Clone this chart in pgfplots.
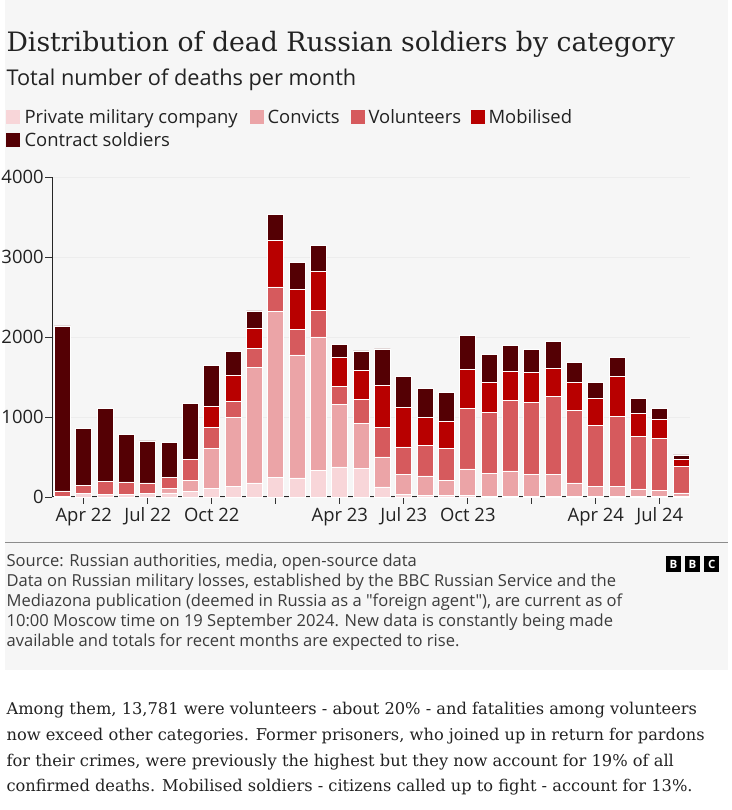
\documentclass[border=0pt]{standalone}
\usepackage{pgfplots}
\pgfplotsset{compat=1.18}
\usepackage{pgfplotstable}
\usepackage{fontspec}
\setmainfont{Open Sans}
\newfontfamily\sansf{Open Sans}
\newfontfamily\titlefont{DejaVu Serif}
\newfontfamily\bodyfont{DejaVu Serif}
\definecolor{bg}{HTML}{F6F6F6}
\definecolor{cpmc}{HTML}{F8D6D9}
\definecolor{cconv}{HTML}{EBA4A7}
\definecolor{cvol}{HTML}{D65A5D}
\definecolor{cmob}{HTML}{B80000}
\definecolor{ccon}{HTML}{540004}
\definecolor{txt}{HTML}{222222}
\definecolor{srctxt}{HTML}{3C3C3C}

\pgfplotstableread{
x pmc conv vol mob con
0 5 0 70 0 2063
1 40 0 100 0 720
2 30 0 165 0 911
3 30 0 158 0 593
4 40 0 135 0 526
5 50 54 142 0 434
6 70 135 263 0 705
7 104 501 263 268 513
8 134 856 204 330 296
9 175 1449 234 255 213
10 242 2075 309 585 326
11 238 1537 317 501 334
12 334 1666 334 489 317
13 376 781 221 363 171
14 355 564 300 368 238
15 125 376 367 522 460
16 33 247 346 493 388
17 20 243 376 359 355
18 20 189 401 334 363
19 20 331 760 484 426
20 10 282 769 371 355
21 10 316 885 363 322
22 10 274 893 380 284
23 10 274 973 355 334
24 5 170 902 359 242
25 5 124 765 342 196
26 5 124 873 501 238
27 5 95 656 288 192
28 5 79 651 230 137
29 5 45 334 88 54
}\data

\begin{document}
\begin{tikzpicture}[x=1bp,y=1bp]
% canvas
\fill[white] (0,0) rectangle (726,810);
\fill[bg] (0,140) rectangle (723,810);
\draw[black!45, line width=1bp] (0,267) -- (723,267);

% title & subtitle
\node[anchor=base west, inner sep=0, text=txt] at (1,758) {\titlefont\fontsize{26.8}{26.8}\selectfont Distribution of dead Russian soldiers by category};
\node[anchor=base west, inner sep=0, text=txt] at (1,724) {\fontsize{21.8}{21.8}\selectfont Total number of deaths per month};

% legend
\begin{scope}[every node/.style={anchor=base west, inner sep=0, text=txt, font=\fontsize{18.5}{18.5}\selectfont}]
\fill[cpmc] (1,686) rectangle (15,700);
\node at (19,686) {Private military company};
\fill[cconv] (245,686) rectangle (259,700);
\node at (262,686) {Convicts};
\fill[cvol] (346,686) rectangle (360,700);
\node at (363,686) {Volunteers};
\fill[cmob] (466,686) rectangle (480,700);
\node at (483,686) {Mobilised};
\fill[ccon] (1,663) rectangle (15,677);
\node at (19,663) {Contract soldiers};
\end{scope}

\begin{axis}[
  at={(57bp,313bp)}, anchor=origin,
  scale only axis, width=638bp, height=320bp,
  xmin=-0.47, xmax=29.43, ymin=0, ymax=4000,
  ybar stacked, bar width=16bp,
  axis x line*=bottom, axis y line*=left,
  axis line style={black!85, line width=1bp, -},
  xtick={1,4,7,10,13,16,19,22,25,28},
  xticklabels={Apr 22,Jul 22,Oct 22,{},Apr 23,Jul 23,Oct 23,{},Apr 24,Jul 24},
  ytick={0,1000,2000,3000,4000},
  tick align=outside, major tick length=7bp,
  tick style={black!80, line width=0.9bp},
  ymajorgrids, major grid style={black!7, line width=0.7bp},
  ticklabel style={font=\fontsize{18.5}{18.5}\selectfont, text=txt},
  /pgf/number format/assume math mode=true,
  /pgf/number format/1000 sep={},
  xticklabel style={inner sep=1bp, yshift=-2.5bp},
  yticklabel style={inner sep=1.5bp},
  clip=false,
]
\addplot[fill=cpmc, draw=white, line width=0.8bp] table[x=x,y=pmc]{\data};
\addplot[fill=cconv, draw=white, line width=0.8bp] table[x=x,y=conv]{\data};
\addplot[fill=cvol, draw=white, line width=0.8bp] table[x=x,y=vol]{\data};
\addplot[fill=cmob, draw=white, line width=0.8bp] table[x=x,y=mob]{\data};
\addplot[fill=ccon, draw=white, line width=0.8bp] table[x=x,y=con]{\data};
\end{axis}

% source
\begin{scope}[every node/.style={anchor=base west, inner sep=0, text=srctxt, font=\sansf\fontsize{16.6}{16.6}\selectfont}]
\node at (1,243) {Source: Russian authorities, media, open-source data};
\node at (1,223) {Data on Russian military losses, established by the BBC Russian Service and the};
\node at (1,203) {Mediazona publication (deemed in Russia as a "foreign agent"), are current as of};
\node at (1,183) {10:00 Moscow time on 19 September 2024. New data is constantly being made};
\node at (1,163) {available and totals for recent months are expected to rise.};
\end{scope}

% BBC logo
\foreach \cx/\l in {668/B,687/B,706.5/C}{
  \fill[black] (\cx-7.5,238) rectangle (\cx+7.5,254);
  \node[text=white, inner sep=0, font=\bfseries\fontsize{11.5}{11.5}\selectfont] at (\cx,246) {\l};
}

% body text
\begin{scope}[every node/.style={anchor=base west, inner sep=0, text=txt, font=\bodyfont\fontsize{16.3}{16.3}\selectfont}]
\node at (1,95) {Among them, 13,781 were volunteers - about 20\% - and fatalities among volunteers};
\node at (1,69) {now exceed other categories. Former prisoners, who joined up in return for pardons};
\node at (1,43) {for their crimes, were previously the highest but they now account for 19\% of all};
\node at (1,18) {confirmed deaths. Mobilised soldiers - citizens called up to fight - account for 13\%.};
\end{scope}
\end{tikzpicture}
\end{document}
